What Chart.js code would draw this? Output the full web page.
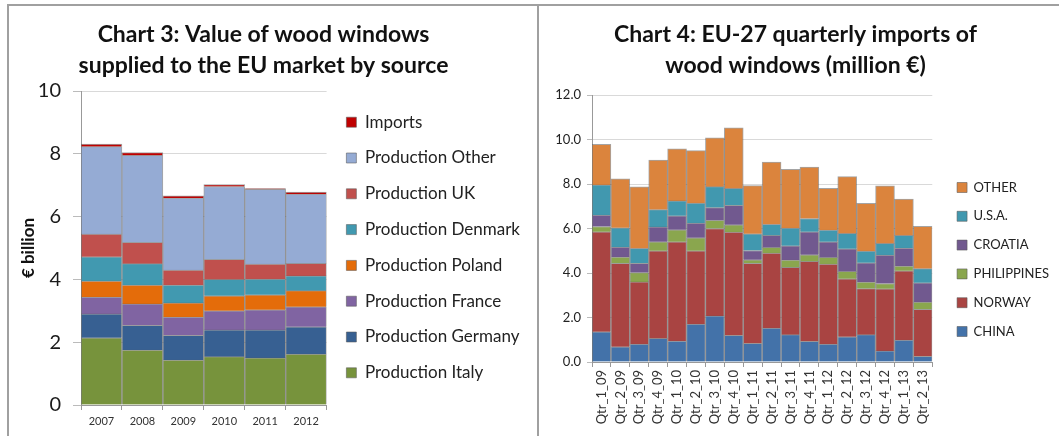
<!DOCTYPE html>
<html>
<head>
<meta charset="utf-8">
<script src="https://cdn.jsdelivr.net/npm/chart.js@4.4.0/dist/chart.umd.min.js"></script>
<style>
  html, body { margin: 0; padding: 0; background: #fff; }
  body { width: 1059px; height: 436px; position: relative; overflow: hidden; }
  .rule-top  { position: absolute; left: 8px; right: 0; top: 4px; height: 2px; background: #a0a0a0; }
  .rule-left { position: absolute; left: 7px; top: 4px; bottom: 0; width: 2px; background: #a0a0a0; }
  .rule-mid  { position: absolute; left: 537px; top: 4px; bottom: 0; width: 2px; background: #a0a0a0; }
  .panel { position: absolute; top: 7px; height: 429px; }
  #p3 { left: 10px; width: 527px; }
  #p4 { left: 541px; width: 518px; }
</style>
</head>
<body>
<div class="rule-top"></div>
<div class="rule-left"></div>
<div class="rule-mid"></div>
<div class="panel" id="p3"><canvas id="chart3" width="527" height="429"></canvas></div>
<div class="panel" id="p4"><canvas id="chart4" width="518" height="429"></canvas></div>

<script>
// ── Chart 3 data (€ billion) ─────────────────────────────────────
const years          = ['2007', '2008', '2009', '2010', '2011', '2012'];
const prodItaly      = [2.14, 1.75, 1.43, 1.54, 1.50, 1.62];
const prodGermany    = [0.76, 0.79, 0.79, 0.85, 0.89, 0.87];
const prodFrance     = [0.54, 0.68, 0.58, 0.61, 0.64, 0.64];
const prodPoland     = [0.51, 0.60, 0.45, 0.48, 0.48, 0.51];
const prodDenmark    = [0.77, 0.68, 0.57, 0.52, 0.50, 0.47];
const prodUK         = [0.72, 0.68, 0.48, 0.64, 0.48, 0.40];
const prodOther      = [2.79, 2.77, 2.29, 2.32, 2.38, 2.21];
const importsTotal   = [0.08, 0.09, 0.07, 0.06, 0.02, 0.06];
const yTicks3        = [0, 2, 4, 6, 8, 10];

// ── Chart 4 data (million €) ─────────────────────────────────────
const quarters = ['Qtr_1_09', 'Qtr_2_09', 'Qtr_3_09', 'Qtr_4_09', 'Qtr_1_10', 'Qtr_2_10',
                  'Qtr_3_10', 'Qtr_4_10', 'Qtr_1_11', 'Qtr_2_11', 'Qtr_3_11', 'Qtr_4_11',
                  'Qtr_1_12', 'Qtr_2_12', 'Qtr_3_12', 'Qtr_4_12', 'Qtr_1_13', 'Qtr_2_13'];
const china       = [1.36, 0.68, 0.80, 1.06, 0.94, 1.70, 2.07, 1.20, 0.84, 1.52, 1.23, 0.93, 0.80, 1.13, 1.23, 0.50, 0.98, 0.26];
const norway      = [4.49, 3.76, 2.80, 3.94, 4.46, 3.30, 3.93, 4.64, 3.60, 3.38, 3.02, 3.59, 3.60, 2.61, 2.07, 2.79, 3.12, 2.11];
const philippines = [0.24, 0.28, 0.42, 0.40, 0.54, 0.58, 0.37, 0.33, 0.15, 0.25, 0.33, 0.30, 0.30, 0.33, 0.29, 0.24, 0.21, 0.32];
const croatia     = [0.51, 0.44, 0.42, 0.67, 0.63, 0.66, 0.57, 0.87, 0.42, 0.54, 0.64, 1.03, 0.70, 1.02, 0.87, 1.27, 0.81, 0.87];
const usa         = [1.36, 0.87, 0.67, 0.78, 0.67, 0.90, 0.94, 0.76, 0.75, 0.50, 0.80, 0.60, 0.53, 0.69, 0.52, 0.53, 0.57, 0.64];
const otherImp    = [1.82, 2.20, 2.76, 2.22, 2.34, 2.36, 2.20, 2.73, 2.17, 2.79, 2.64, 2.31, 1.87, 2.55, 2.15, 2.59, 1.63, 1.90];
const yTicks4     = [0, 2, 4, 6, 8, 10, 12];

const FONT = 'Lato, "Open Sans", sans-serif';
const EDGE = 'rgba(90,90,90,0.55)';

// nudges legend and title boxes so they sit where Excel put them
const boxShift = {
  id: 'boxShift',
  afterLayout(chart, args, opts) {
    const lg = chart.legend;
    if (lg) {
      const dx = opts.dx || 0, dy = opts.dy || 0;
      lg.left += dx; lg.right += dx;
      lg.top += dy;  lg.bottom += dy;
    }
    const tt = chart.titleBlock;
    if (tt && opts.titleDx) {
      tt.left += opts.titleDx; tt.right += opts.titleDx;
    }
  }
};

function bar(label, data, color) {
  return { label, data, backgroundColor: color, borderColor: EDGE, borderWidth: 1,
           categoryPercentage: 1.0, barPercentage: 1.0 };
}

function titleOpts(lines, padBottom) {
  return {
    display: true, text: lines, color: '#111',
    font: { family: FONT, size: 23, weight: 'bold', lineHeight: 1.35 },
    padding: { top: 12, bottom: padBottom }
  };
}

// ── Chart 3 ──────────────────────────────────────────────────────
new Chart(document.getElementById('chart3'), {
  type: 'bar',
  data: {
    labels: years,
    datasets: [
      bar('Production Italy',   prodItaly,    '#77933C'),
      bar('Production Germany', prodGermany,  '#376092'),
      bar('Production France',  prodFrance,   '#8064A2'),
      bar('Production Poland',  prodPoland,   '#E46C0A'),
      bar('Production Denmark', prodDenmark,  '#4199B0'),
      bar('Production UK',      prodUK,       '#C0504D'),
      bar('Production Other',   prodOther,    '#95ABD4'),
      bar('Imports',            importsTotal, '#C00000')
    ]
  },
  options: {
    responsive: false,
    animation: false,
    layout: { padding: { left: 0, right: 8, bottom: 0 } },
    plugins: {
      title: titleOpts(['Chart 3: Value of wood windows', 'supplied to the EU market by source'], 9.9),
      legend: {
        position: 'right', reverse: true, maxWidth: 230,
        labels: { boxWidth: 10, boxHeight: 10, padding: 18.8, color: '#222',
                  font: { family: FONT, size: 17, lineHeight: 1.2 } }
      },
      boxShift: { dx: 1, dy: 26, titleDx: -6 },
      tooltip: { enabled: false }
    },
    scales: {
      x: {
        stacked: true,
        grid: { offset: true, drawOnChartArea: false, drawTicks: true, tickLength: 5, color: '#999' },
        border: { color: '#999' },
        ticks: { color: '#333', padding: 5, font: { family: FONT, size: 11 } },
        afterFit: s => { s.height = 31; }
      },
      y: {
        stacked: true, min: 0, max: 10,
        afterBuildTicks: s => { s.ticks = yTicks3.map(v => ({ value: v })); },
        grid: { color: '#d9d9d9', tickLength: 8, tickColor: '#bbb' },
        border: { color: '#999' },
        ticks: { color: '#1a1a1a', padding: 12, font: { family: FONT, size: 20 } },
        title: { display: true, text: '€ billion', color: '#111', padding: { top: 8, bottom: 0 },
                 font: { family: FONT, size: 17, weight: 'bold' } },
        afterFit: s => { s.width = 71; }
      }
    }
  },
  plugins: [boxShift]
});

// ── Chart 4 ──────────────────────────────────────────────────────
new Chart(document.getElementById('chart4'), {
  type: 'bar',
  data: {
    labels: quarters,
    datasets: [
      bar('CHINA',       china,       '#4372A9'),
      bar('NORWAY',      norway,      '#A94442'),
      bar('PHILIPPINES', philippines, '#8AA64E'),
      bar('CROATIA',     croatia,     '#71598F'),
      bar('U.S.A.',      usa,         '#4198AF'),
      bar('OTHER',       otherImp,    '#DB843D')
    ]
  },
  options: {
    responsive: false,
    animation: false,
    layout: { padding: { left: 0, right: 9, bottom: 0 } },
    plugins: {
      title: titleOpts(['Chart 4: EU-27 quarterly imports of', 'wood windows (million €)'], 13.9),
      legend: {
        position: 'right', reverse: true,
        labels: { boxWidth: 10, boxHeight: 10, padding: 15.8, color: '#222',
                  font: { family: FONT, size: 13, lineHeight: 1.2 } }
      },
      boxShift: { dx: 9, dy: 38 },
      tooltip: { enabled: false }
    },
    scales: {
      x: {
        stacked: true,
        grid: { offset: true, drawOnChartArea: false, drawTicks: true, tickLength: 5, color: '#999' },
        border: { color: '#999' },
        ticks: { color: '#333', padding: 3, minRotation: 90, maxRotation: 90, autoSkip: false,
                 font: { family: FONT, size: 13 } },
        afterFit: s => { s.height = 74; }
      },
      y: {
        stacked: true, min: 0, max: 12,
        afterBuildTicks: s => { s.ticks = yTicks4.map(v => ({ value: v })); },
        grid: { color: '#d9d9d9', tickLength: 5, tickColor: '#bbb' },
        border: { color: '#999' },
        ticks: { color: '#222', padding: 6, font: { family: FONT, size: 13 },
                 callback: v => v.toFixed(1) },
        afterFit: s => { s.width = 51; }
      }
    }
  },
  plugins: [boxShift]
});
</script>
</body>
</html>
